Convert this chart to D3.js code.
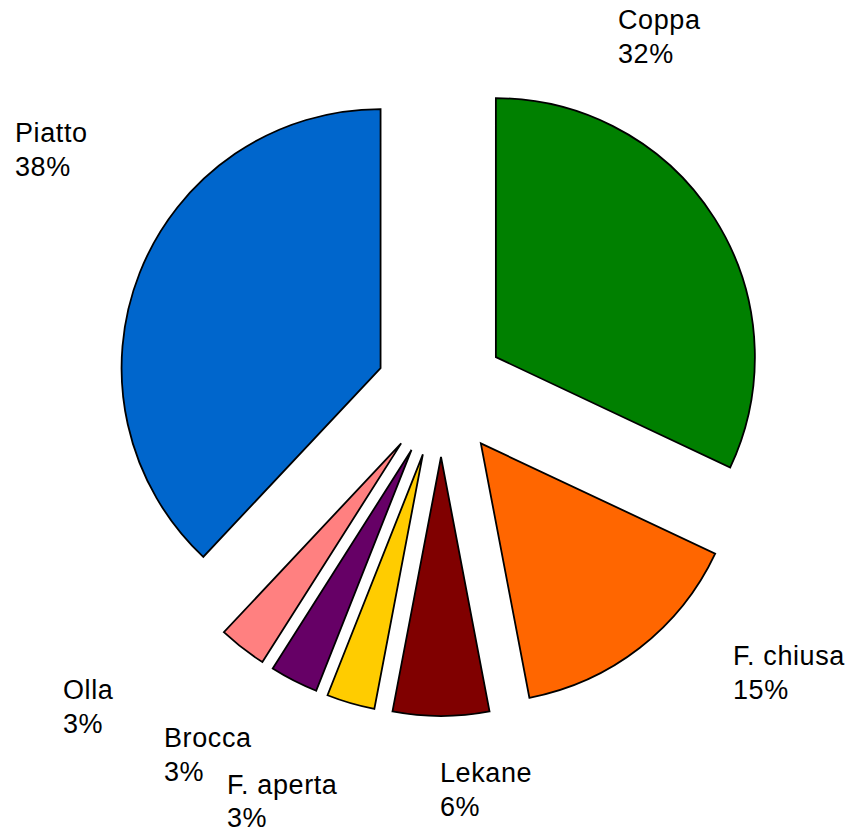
<!DOCTYPE html>
<html>
<head>
<meta charset="utf-8">
<script src="https://cdn.jsdelivr.net/npm/d3@7"></script>
<style>
  html, body { margin: 0; padding: 0; background: #fff; }
  svg { display: block; }
</style>
</head>
<body>
<svg id="chart" width="854" height="832"></svg>
<script>
// ---- data ----
const categories = ["Coppa", "F. chiusa", "Lekane", "F. aperta", "Brocca", "Olla", "Piatto"];
const values = [32, 15, 6, 3, 3, 3, 38];
const percentLabels = ["32%", "15%", "6%", "3%", "3%", "3%", "38%"];
const colors = ["#008000", "#FF6600", "#800000", "#FFCC00", "#660066", "#FF8080", "#0066CC"];

// ---- layout ----
const W = 854, H = 832;
const cx = 441, cy = 392, radius = 259, explode = 65;
const fontSize = 27, lineGap = 34;
// label block anchors (left x, first baseline y) as placed in the reference
const labelAnchors = [
  [618, 29], [733, 665], [440, 782], [227, 794], [164, 747], [63, 699], [15, 142]
];

const svg = d3.select("#chart");
const data = categories.map((c, i) => ({ name: c, value: values[i], pct: percentLabels[i], color: colors[i], i }));

const pie = d3.pie().sort(null).value(d => d.value).startAngle(0).endAngle(2 * Math.PI);
const arc = d3.arc().innerRadius(0).outerRadius(radius);
const arcs = pie(data);

const g = svg.append("g").attr("transform", `translate(${cx},${cy})`);

g.selectAll("path")
  .data(arcs)
  .join("path")
  .attr("d", arc)
  .attr("fill", d => d.data.color)
  .attr("stroke", "#000")
  .attr("stroke-width", 1.8)
  .attr("stroke-linejoin", "miter")
  .attr("transform", d => {
    const a = (d.startAngle + d.endAngle) / 2;
    return `translate(${explode * Math.sin(a)},${-explode * Math.cos(a)})`;
  });

const labels = svg.append("g")
  .attr("font-family", "'Liberation Sans', Arial, sans-serif")
  .attr("font-size", fontSize)
  .attr("fill", "#000");

labels.selectAll("text")
  .data(arcs)
  .join("text")
  .attr("x", d => labelAnchors[d.data.i][0])
  .attr("y", d => labelAnchors[d.data.i][1])
  .attr("letter-spacing", 0.6)
  .each(function (d) {
    const t = d3.select(this);
    const gap = d.data.i === 3 ? 33 : lineGap;
    t.append("tspan").attr("x", labelAnchors[d.data.i][0]).text(d.data.name);
    t.append("tspan").attr("x", labelAnchors[d.data.i][0]).attr("dy", gap).text(d.data.pct);
  });
</script>
</body>
</html>
